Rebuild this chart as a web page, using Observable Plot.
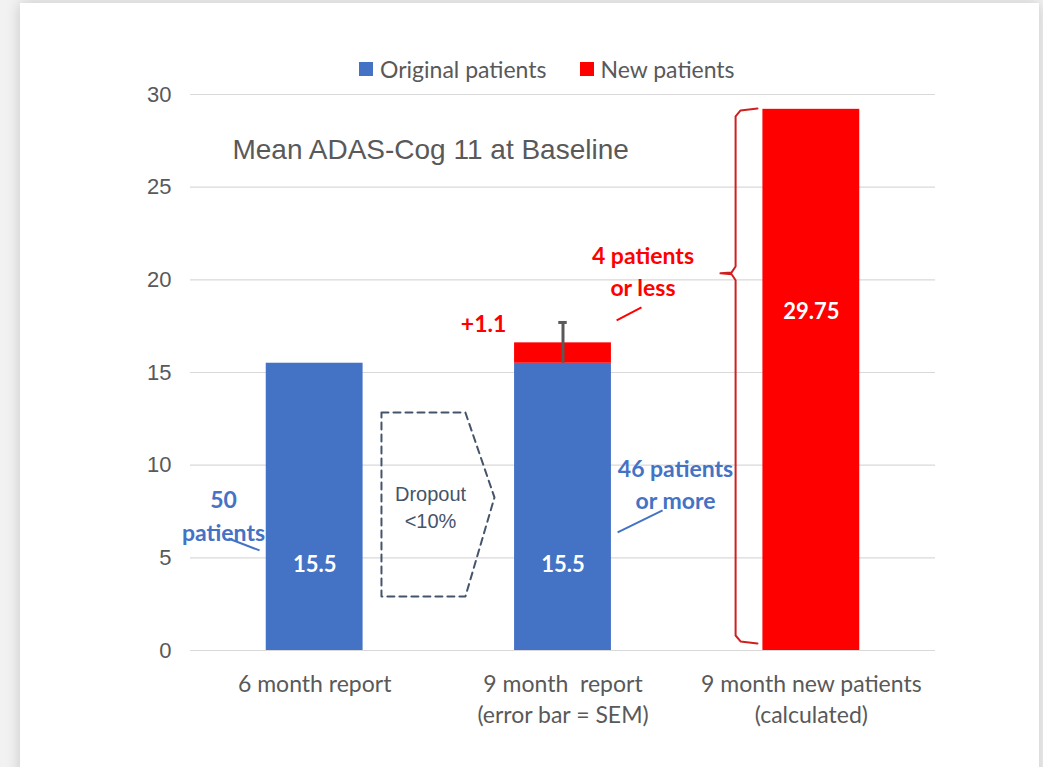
<!DOCTYPE html>
<html>
<head>
<meta charset="utf-8">
<script src="https://cdn.jsdelivr.net/npm/d3@7"></script>
<script src="https://cdn.jsdelivr.net/npm/@observablehq/plot@0.6"></script>
<style>
  html, body { margin: 0; padding: 0; background: #f2f2f2; }
  #wrap { position: relative; width: 1043px; height: 767px; overflow: hidden; }
  #panel { position: absolute; left: 20px; top: 3px; width: 1019px; height: 800px; background: #fff;
           box-shadow: 0 0 14px rgba(0,0,0,0.18); }
  #chart { position: absolute; left: 0; top: 0; }
  #legend { position: absolute; left: 359px; top: 55px; font-family: Lato, sans-serif; font-size: 23px; color: #595959;
            display: flex; align-items: center; white-space: nowrap; }
  .sw { display: inline-block; width: 14px; height: 14px; margin-right: 7px; }
  .item { display: flex; align-items: center; margin-right: 33px; }
</style>
</head>
<body>
<div id="wrap">
  <div id="panel"></div>
  <div id="chart"></div>
  <div id="legend"></div>
</div>
<script>
// ---- data ----
const categories = ["6 month report", "9 month  report\n(error bar = SEM)", "9 month new patients\n(calculated)"];
const groups = ["Original patients", "New patients"];
const groupColors = ["#4472C4", "#FF0000"];
const originalValues = [15.5, 15.5, 0];
const newValues = [0, 1.1, 29.2];
const valueLabels = ["15.5", "15.5", "29.75"];
const yTicks = [0, 5, 10, 15, 20, 25, 30];
const errorBar = {cat: 1, low: 15.5, high: 17.7};

// annotation shapes (data units)
const dropoutShape = [[0.269, 12.84], [0.607, 12.84], [0.724, 8.26], [0.607, 2.91], [0.269, 2.91], [0.269, 12.84]];
const braceShape = [[1.783, 29.25], [1.715, 29.14], [1.695, 28.82], [1.695, 20.72], [1.679, 20.40], [1.634, 20.35],
                    [1.679, 20.30], [1.695, 19.98], [1.695, 0.81], [1.715, 0.49], [1.783, 0.38]];
const notes = [
  {x: -0.367, y: 7.37, text: "50\npatients", color: "#4472C4"},
  {x: 1.453, y: 9.07, text: "46 patients\nor more", color: "#4472C4"},
  {x: 1.322, y: 20.56, text: "4 patients\nor less", color: "#FF0000"},
  {x: 0.680, y: 17.75, text: "+1.1", color: "#FF0000"}
];
const leaders = [
  {x1: -0.347, y1: 6.04, x2: -0.222, y2: 5.40, color: "#4472C4"},
  {x1: 1.220, y1: 6.37, x2: 1.401, y2: 7.56, color: "#4472C4"},
  {x1: 1.216, y1: 17.81, x2: 1.316, y2: 18.51, color: "#FF0000"}
];

// ---- build rows ----
const halfWidth = 0.195;
const rows = [];
categories.forEach((c, i) => {
  let base = 0;
  [originalValues[i], newValues[i]].forEach((v, g) => {
    if (v > 0) {
      rows.push({i, group: groups[g], y1: base, y2: base + v});
      base += v;
    }
  });
});
const labelRows = valueLabels.map((t, i) => ({i, text: t, y: i === 2 ? 18.24 : 4.59}));

const chart = Plot.plot({
  width: 1043, height: 767,
  marginLeft: 190, marginRight: 108, marginTop: 94, marginBottom: 117,
  style: {background: "transparent", color: "#595959", overflow: "visible"},
  x: {type: "linear", domain: [-0.5, 2.5], axis: null},
  y: {domain: [0, 30], axis: null},
  color: {domain: groups, range: groupColors},
  marks: [
    Plot.gridY(yTicks, {stroke: "#d9d9d9", strokeOpacity: 1, strokeWidth: 1.2}),
    Plot.axisY(yTicks, {tickSize: 0, tickPadding: 19, fontSize: 22, fontFamily: "Liberation Sans, Arial, sans-serif", fill: "#595959"}),
    Plot.axisX([0, 1, 2], {tickSize: 0, tickPadding: 19, tickFormat: i => categories[i], fontSize: 23,
      fontFamily: "Lato, sans-serif", fill: "#595959", lineHeight: 1.35, label: null}),
    Plot.rectY(rows, {x1: d => d.i - halfWidth, x2: d => d.i + halfWidth, y1: "y1", y2: "y2", fill: "group"}),
    Plot.ruleX([errorBar], {x: "cat", y1: "low", y2: "high", stroke: "#595959", strokeWidth: 3}),
    Plot.ruleY([errorBar], {y: "high", x1: d => d.cat - 0.017, x2: d => d.cat + 0.017, stroke: "#595959", strokeWidth: 3}),
    Plot.text(labelRows, {x: "i", y: "y", text: "text", fill: "white", fontWeight: "bold", fontSize: 22, fontFamily: "Lato, sans-serif"}),
    Plot.text(["Mean ADAS-Cog 11 at Baseline"], {x: -0.331, y: 26.98, text: d => d, textAnchor: "start", fontSize: 28,
      fontFamily: "Liberation Sans, Arial, sans-serif", fill: "#595959"}),
    Plot.line(dropoutShape, {x: d => d[0], y: d => d[1], stroke: "#44546A", strokeWidth: 2, strokeDasharray: "7,5"}),
    Plot.text(["Dropout\n<10%"], {x: 0.4665, y: 7.80, text: d => d, fontSize: 20, lineHeight: 1.35,
      fontFamily: "Liberation Sans, Arial, sans-serif", fill: "#44546A"}),
    Plot.line(braceShape, {x: d => d[0], y: d => d[1], stroke: "#d01f1f", strokeWidth: 2, curve: "linear"}),
    Plot.link(leaders, {x1: "x1", y1: "y1", x2: "x2", y2: "y2", stroke: "color", strokeWidth: 2}),
    Plot.text(notes, {x: "x", y: "y", text: "text", fill: "color", fontWeight: "bold", fontSize: 23, lineHeight: 1.42,
      fontFamily: "Lato, sans-serif"})
  ]
});
document.getElementById("chart").appendChild(chart);

const legend = document.getElementById("legend");
groups.forEach((g, k) => {
  const item = document.createElement("span");
  item.className = "item";
  const sw = document.createElement("span");
  sw.className = "sw";
  sw.style.background = groupColors[k];
  item.appendChild(sw);
  item.appendChild(document.createTextNode(g));
  legend.appendChild(item);
});
</script>
</body>
</html>
